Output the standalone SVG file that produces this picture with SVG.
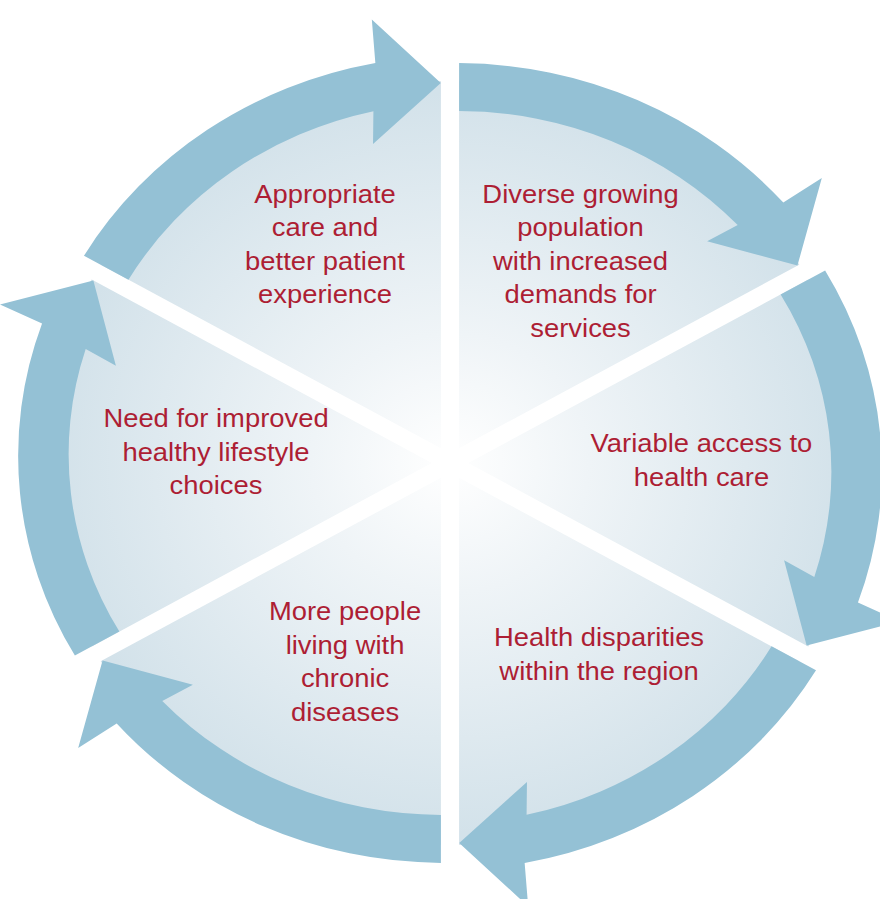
<svg xmlns="http://www.w3.org/2000/svg" width="880" height="899" viewBox="0 0 880 899">
  <defs>
    <radialGradient id="discFill" gradientUnits="userSpaceOnUse" cx="0" cy="0" r="370">
      <stop offset="0" stop-color="#ffffff"/>
      <stop offset="0.35" stop-color="#eff4f7"/>
      <stop offset="1" stop-color="#d3e2ea"/>
    </radialGradient>
    <!-- one curved arrow of the cycle, running clockwise from 90deg to 30deg -->
    <path id="cycleArrow" d="M 8.5,-399.9 A 403,403 0 0 1 311.5,-260.4 L 347.5,-285 L 324.7,-197.4 L 240.3,-221.8 L 268.9,-237.9 A 355,355 0 0 0 8.5,-351.9 Z"/>
  </defs>
  <style>
    .arrow { fill: #94c1d5; }
    .gap { fill: #ffffff; }
    .label { font-family: "Liberation Sans", Arial, sans-serif; font-size: 25.6px; fill: #ad1e34; text-anchor: middle; }
  </style>

  <rect width="880" height="899" fill="#ffffff"/>

  <!-- shaded disc split into six sectors -->
  <g id="wheel" transform="translate(450,463) scale(1.07,1)">
    <circle r="382" fill="url(#discFill)"/>
    <rect class="gap" x="-8.5" y="-440" width="17" height="880"/>
    <rect class="gap" x="-8.5" y="-440" width="17" height="880" transform="rotate(60)"/>
    <rect class="gap" x="-8.5" y="-440" width="17" height="880" transform="rotate(120)"/>
  </g>

  <!-- curved arrows around the rim -->
  <g id="connectors" transform="translate(450,463) scale(1.07,1)">
    <use href="#cycleArrow" class="arrow"/>
    <use href="#cycleArrow" class="arrow" transform="rotate(60)"/>
    <use href="#cycleArrow" class="arrow" transform="rotate(120)"/>
    <use href="#cycleArrow" class="arrow" transform="rotate(180)"/>
    <use href="#cycleArrow" class="arrow" transform="rotate(240)"/>
    <use href="#cycleArrow" class="arrow" transform="rotate(300)"/>
  </g>

  <!-- sector labels -->
  <g transform="translate(450,0) scale(1.07,1)">
    <g id="node-population">
      <text class="label" x="122" y="203">Diverse growing</text>
      <text class="label" x="122" y="236.5">population</text>
      <text class="label" x="122" y="270">with increased</text>
      <text class="label" x="122" y="303.5">demands for</text>
      <text class="label" x="122" y="337">services</text>
    </g>
    <g id="node-access">
      <text class="label" x="235" y="452.5">Variable access to</text>
      <text class="label" x="235" y="486">health care</text>
    </g>
    <g id="node-disparities">
      <text class="label" x="139.3" y="646.5">Health disparities</text>
      <text class="label" x="139.3" y="680">within the region</text>
    </g>
    <g id="node-chronic">
      <text class="label" x="-98.1" y="620.5">More people</text>
      <text class="label" x="-98.1" y="654">living with</text>
      <text class="label" x="-98.1" y="687.5">chronic</text>
      <text class="label" x="-98.1" y="721">diseases</text>
    </g>
    <g id="node-lifestyle">
      <text class="label" x="-218.7" y="427.5">Need for improved</text>
      <text class="label" x="-218.7" y="461">healthy lifestyle</text>
      <text class="label" x="-218.7" y="494.5">choices</text>
    </g>
    <g id="node-care">
      <text class="label" x="-116.8" y="203">Appropriate</text>
      <text class="label" x="-116.8" y="236.5">care and</text>
      <text class="label" x="-116.8" y="270">better patient</text>
      <text class="label" x="-116.8" y="303.5">experience</text>
    </g>
  </g>
</svg>
